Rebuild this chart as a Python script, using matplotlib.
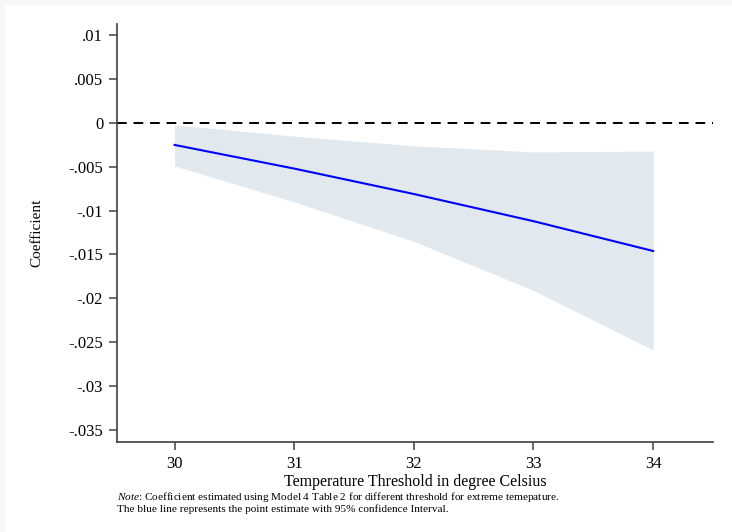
import matplotlib.pyplot as plt
from matplotlib.patches import Rectangle

plt.rcParams['font.family'] = ['Liberation Serif', 'DejaVu Serif']
plt.rcParams['mathtext.fontset'] = 'custom'
plt.rcParams['mathtext.it'] = 'Liberation Serif:italic'
plt.rcParams['mathtext.rm'] = 'Liberation Serif'

thresholds = [30, 31, 32, 33, 34]
coef = [-0.0025, -0.0052, -0.0081, -0.0112, -0.0146]
ci_upper = [-0.0002, -0.0015, -0.0026, -0.0033, -0.0032]
ci_lower = [-0.0049, -0.0090, -0.0135, -0.0191, -0.0259]

yticks = [0.01, 0.005, 0, -0.005, -0.01, -0.015, -0.02, -0.025, -0.03, -0.035]
ytick_labels = ['.01', '.005', '0', '-.005', '-.01', '-.015', '-.02', '-.025', '-.03', '-.035']

fig = plt.figure(figsize=(7.32, 5.32), dpi=100, facecolor='#f7f7f7')
# white page with a thin grey strip at top and left
fig.patches.append(Rectangle((5 / 732, 0), 1, 1 - 5 / 532, transform=fig.transFigure,
                             facecolor='white', edgecolor='none', zorder=-1))

ax = fig.add_axes([0.16, 0.169, 0.814, 0.786])
ax.set_facecolor('white')

ax.fill_between(thresholds, ci_lower, ci_upper, color='#e1e9ef', linewidth=0)
ax.plot(thresholds, coef, color='#0000ff', linewidth=1.5)
ax.axhline(0, color='black', linestyle=(0, (5, 3.5)), linewidth=1.4)

ax.set_xlim(29.52, 34.5)
ax.set_ylim(-0.0364, 0.0113)
ax.set_xticks(thresholds)
ax.set_xticklabels([str(t) for t in thresholds])
ax.set_yticks(yticks)
ax.set_yticklabels(ytick_labels)

for s in ['top', 'right']:
    ax.spines[s].set_visible(False)
for s in ['left', 'bottom']:
    ax.spines[s].set_color('#404040')
    ax.spines[s].set_linewidth(1.2)
ax.tick_params(direction='out', length=6, width=1.1, color='#404040',
               labelsize=12, pad=4)

ax.set_xlabel('Temperature Threshold in degree Celsius', fontsize=11.5, labelpad=1.5)
ax.set_ylabel('Coefficient', fontsize=11, labelpad=18)

fig.text(0.16, 1 - 500 / 532, r'$\it{Note}$: Coefficient estimated using Model 4 Table 2 for different threshold for extreme temepature.',
         fontsize=8.1, ha='left', va='baseline')
fig.text(0.16, 1 - 512.5 / 532, 'The blue line represents the point estimate with 95% confidence Interval.',
         fontsize=8.1, ha='left', va='baseline')

fig.savefig('out.png', dpi=100, facecolor=fig.get_facecolor())
